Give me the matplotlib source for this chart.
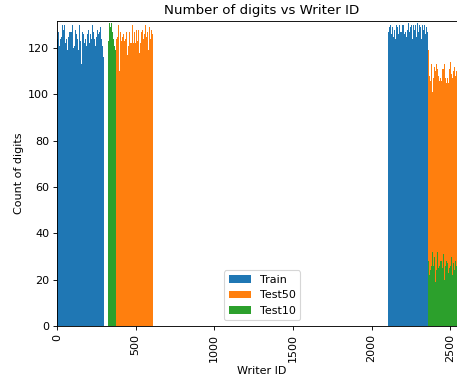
import numpy as np
import matplotlib
matplotlib.use("Agg")
import matplotlib.pyplot as plt

# digit counts per writer, grouped in blocks of 6 writer ids
bin_width = 6

train1_start = 0
train1_counts = [124, 127, 121, 124, 125, 130, 128, 130, 124, 122, 124, 119, 125, 127, 127, 127, 130, 120, 121, 128,
                 126, 124, 119, 130, 123, 113, 124, 127, 126, 122, 124, 121, 126, 128, 122, 126, 124, 130, 127, 124,
                 121, 125, 128, 126, 123, 127, 129, 124, 121, 116]

test10a_start = 324
test10a_counts = [123, 131, 129, 131, 127, 124, 121, 119]

test50a_start = 372
test50a_counts = [121, 124, 125, 130, 110, 127, 123, 125, 126, 123, 124, 127, 117, 121, 127, 122, 122, 130, 130, 122,
                  127, 122, 128, 123, 128, 118, 122, 127, 128, 124, 126, 130, 125, 127, 119, 126, 129, 124, 128, 126]

train2_start = 2106
train2_counts = [127, 129, 130, 126, 129, 125, 128, 124, 130, 129, 126, 130, 129, 127, 127, 130, 130, 126, 127, 125,
                 128, 131, 127, 129, 130, 124, 130, 128, 130, 125, 129, 131, 127, 130, 129, 124, 130, 128, 130, 126,
                 129, 127]

test50b_start = 2358
test50b_counts = [119, 108, 106, 113, 101, 107, 108, 112, 110, 113, 111, 108, 106, 107, 106, 111, 111, 113, 107, 105,
                  107, 105, 111, 108, 114, 109, 107, 110, 112, 108, 110, 114]

test10b_start = 2358
test10b_counts = [28, 22, 24, 26, 32, 26, 29, 30, 19, 24, 32, 25, 26, 28, 28, 25, 31, 20, 26, 28, 27, 23, 25, 29,
                  26, 30, 22, 27, 24, 28, 26, 23]


def ids(start, counts):
    return start + bin_width * np.arange(len(counts))


fig = plt.figure(figsize=(457 / 80, 383 / 80), dpi=80)
ax = fig.add_axes([57 / 457, 57 / 383, 410 / 457, 305 / 383])

ax.bar(np.concatenate([ids(train1_start, train1_counts), ids(train2_start, train2_counts)]),
       train1_counts + train2_counts, width=bin_width, align='edge', color='C0', label='Train')
ax.bar(np.concatenate([ids(test50a_start, test50a_counts), ids(test50b_start, test50b_counts)]),
       test50a_counts + test50b_counts, width=bin_width, align='edge', color='C1', label='Test50')
ax.bar(np.concatenate([ids(test10a_start, test10a_counts), ids(test10b_start, test10b_counts)]),
       test10a_counts + test10b_counts, width=bin_width, align='edge', color='C2', label='Test10')

ax.set_xlim(0, 2607)
ax.set_ylim(0, 131.7)
ax.set_xticks([0, 500, 1000, 1500, 2000, 2500])
plt.setp(ax.get_xticklabels(), rotation=90)
ax.set_xlabel('Writer ID')
ax.set_ylabel('Count of digits')
ax.set_title('Number of digits vs Writer ID')
ax.legend(loc='lower center')

fig.savefig('out.png', dpi=80)
